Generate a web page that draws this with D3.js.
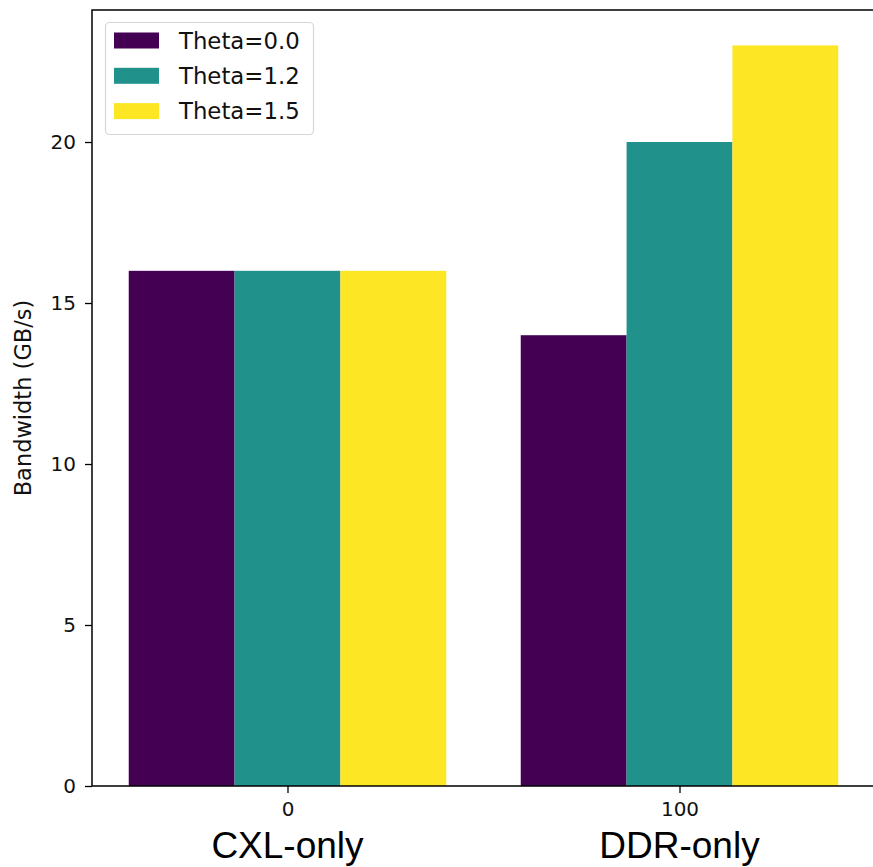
<!DOCTYPE html>
<html>
<head>
<meta charset="utf-8">
<script src="https://cdn.jsdelivr.net/npm/d3@7"></script>
<style>
  html, body { margin: 0; padding: 0; background: #fff; }
  svg { display: block; }
</style>
</head>
<body>
<script>
// ---- data ----
const groups = [0, 100];
const groupLabels = ["CXL-only", "DDR-only"];
const seriesNames = ["Theta=0.0", "Theta=1.2", "Theta=1.5"];
const seriesColors = ["#440154", "#21918c", "#fde725"];
const values = [
  [16, 14],   // Theta=0.0
  [16, 20],   // Theta=1.2
  [16, 23]    // Theta=1.5
];
const yTicks = [0, 5, 10, 15, 20];
const yLabel = "Bandwidth (GB/s)";

// ---- layout ----
const W = 873, H = 867;
const mLeft = 92, mRight = 875, mTop = 10, mBottom = 786;
const barWidth = 0.27;

const svg = d3.select("body").append("svg").attr("width", W).attr("height", H);

const x = d3.scaleLinear().domain([-0.4987, 1.4987]).range([mLeft, mRight]);
const y = d3.scaleLinear().domain([0, 24.1]).range([mBottom, mTop]);

// bars
values.forEach((vals, si) => {
  svg.append("g").selectAll("rect").data(vals).join("rect")
    .attr("x", (d, gi) => x(gi + (si - 1) * barWidth - barWidth / 2))
    .attr("width", (d, gi) => x(gi + barWidth) - x(gi))
    .attr("y", d => y(d))
    .attr("height", d => y(0) - y(d))
    .attr("fill", seriesColors[si]);
});

// y axis
const yAxis = svg.append("g").attr("transform", `translate(${mLeft},0)`)
  .call(d3.axisLeft(y).tickValues(yTicks).tickSize(7).tickPadding(9).tickFormat(d3.format("d")));
yAxis.select(".domain").remove();
yAxis.selectAll("line").attr("stroke", "#000").attr("stroke-width", 1.3);
yAxis.selectAll("text").attr("font-family", "DejaVu Sans").attr("font-size", 20).attr("fill", "#111");

// x axis
const xAxis = svg.append("g").attr("transform", `translate(0,${mBottom})`)
  .call(d3.axisBottom(x).tickValues([0, 1]).tickSize(7).tickPadding(9).tickFormat((d, i) => groups[i]));
xAxis.select(".domain").remove();
xAxis.selectAll("line").attr("stroke", "#000").attr("stroke-width", 1.3);
xAxis.selectAll("text").attr("font-family", "DejaVu Sans").attr("font-size", 20).attr("fill", "#111");

// spines
svg.append("rect")
  .attr("x", mLeft).attr("y", mTop)
  .attr("width", mRight - mLeft).attr("height", mBottom - mTop)
  .attr("fill", "none").attr("stroke", "#000").attr("stroke-width", 1.5);

// group labels
svg.append("g").selectAll("text").data(groupLabels).join("text")
  .attr("x", (d, i) => x(i))
  .attr("y", 858)
  .attr("text-anchor", "middle")
  .attr("font-family", "Liberation Sans, Arial, sans-serif")
  .attr("font-size", 37)
  .attr("fill", "#000")
  .text(d => d);

// y label
svg.append("text")
  .attr("transform", `translate(31,${(mTop + mBottom) / 2}) rotate(-90)`)
  .attr("text-anchor", "middle")
  .attr("font-family", "DejaVu Sans")
  .attr("font-size", 22.5)
  .attr("fill", "#111")
  .text(yLabel);

// legend
const lg = svg.append("g");
lg.append("rect")
  .attr("x", 105.5).attr("y", 22.5).attr("width", 208).attr("height", 112)
  .attr("rx", 4).attr("ry", 4)
  .attr("fill", "#fff").attr("fill-opacity", 0.8)
  .attr("stroke", "#d6d6d6").attr("stroke-width", 1.2);
seriesNames.forEach((name, i) => {
  const cy = 40.5 + i * 35.3;
  lg.append("rect")
    .attr("x", 114).attr("y", cy - 8).attr("width", 45).attr("height", 16)
    .attr("fill", seriesColors[i]);
  lg.append("text")
    .attr("x", 179).attr("y", cy + 8)
    .attr("font-family", "DejaVu Sans").attr("font-size", 22.8)
    .attr("fill", "#111")
    .text(name);
});
</script>
</body>
</html>
